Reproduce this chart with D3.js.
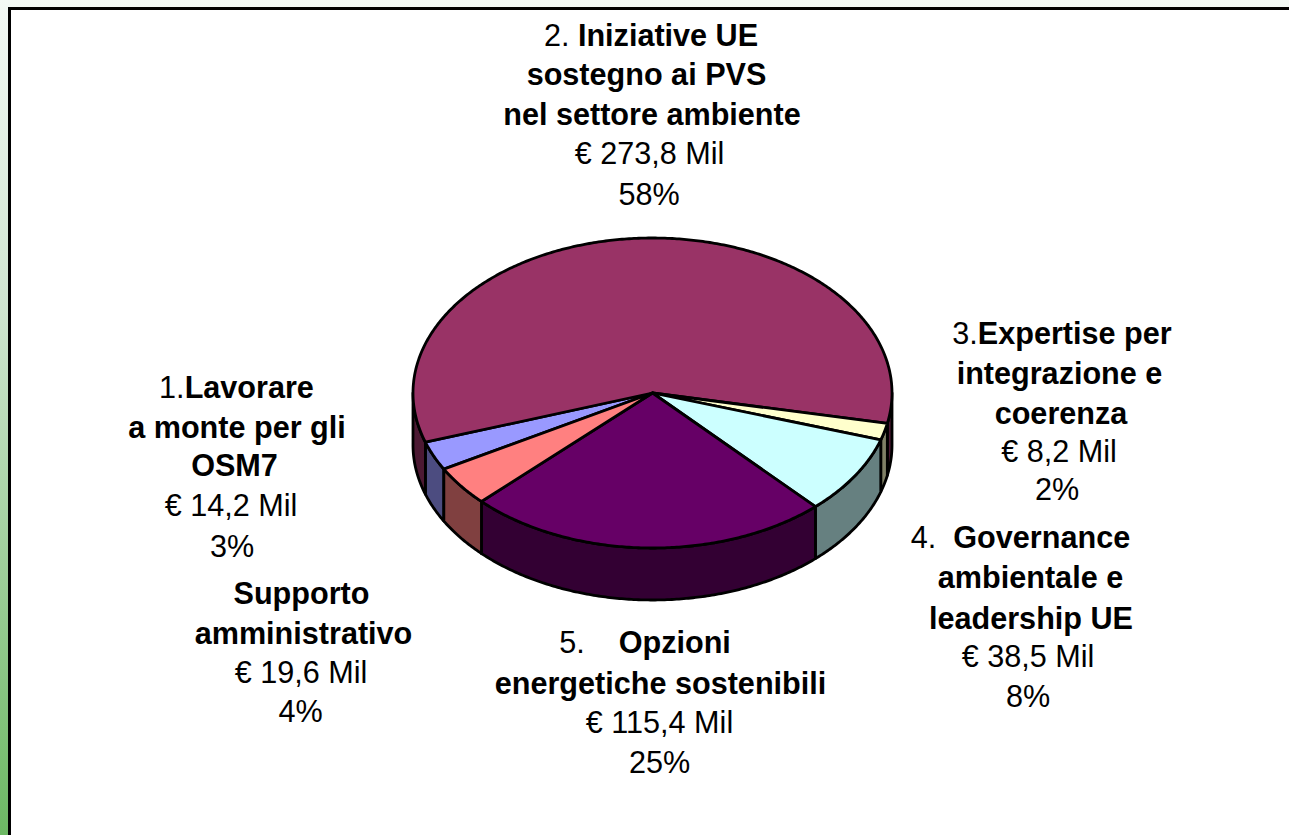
<!DOCTYPE html>
<html>
<head>
<meta charset="utf-8">
<script src="https://cdn.jsdelivr.net/npm/d3@7"></script>
<style>
  html, body { margin: 0; padding: 0; background: #fff; overflow: hidden; }
  text { font-family: "Liberation Sans", Arial, sans-serif; font-size: 30.6px; fill: #000; white-space: pre; text-anchor: middle; }
</style>
</head>
<body>
<script>
// values in millions of euro, clockwise from the "Lavorare a monte" slice
var names = ["Lavorare a monte", "Iniziative UE", "Expertise", "Governance", "Opzioni energetiche", "Supporto"];
var values = [14.2, 273.8, 8.2, 38.5, 115.4, 19.6];
var topColors = ["#9999ff", "#993366", "#ffffcc", "#ccffff", "#660066", "#ff8080"];
var sideColors = ["#4c4c80", "#4c1933", "#808066", "#668080", "#330033", "#804040"];

// label lines: [before bold, bold]
var labelLines = [
  ["2. ", "Iniziative UE"], ["", "sostegno ai PVS"], ["", "nel settore ambiente"], ["€ 273,8 Mil", ""], ["58%", ""],
  ["3.", "Expertise per"], ["", "integrazione e"], ["", "coerenza"], ["€ 8,2 Mil", ""], ["2%", ""],
  ["4.  ", "Governance"], ["", "ambientale e"], ["", "leadership UE"], ["€ 38,5 Mil", ""], ["8%", ""],
  ["5.    ", "Opzioni"], ["", "energetiche sostenibili"], ["€ 115,4 Mil", ""], ["25%", ""],
  ["", "Supporto"], ["", "amministrativo"], ["€ 19,6 Mil", ""], ["4%", ""],
  ["1.", "Lavorare"], ["", "a monte per gli"], ["", "OSM7"], ["€ 14,2 Mil", ""], ["3%", ""]
];
var labelX = [
  651, 646.5, 652, 649.5, 649,
  1062, 1059.5, 1061, 1059, 1057,
  1020.5, 1030.5, 1031, 1028, 1028,
  645, 660.5, 659.5, 659.5,
  301.5, 303.5, 301, 300.5,
  236.5, 237, 234.5, 231, 232
];
var labelY = [
  46, 85, 125, 164, 205,
  344, 384, 424, 462, 500,
  548, 588, 629, 667, 707,
  653, 694, 733, 773,
  604, 644, 683, 722,
  398, 438, 476, 516, 557
];

var width = 1289, height = 835;
var cx = 652.5, cy = 393, rx = 239.5, ry = 155, depth = 52;

var svg = d3.select("body").append("svg")
    .attr("width", width)
    .attr("height", height)
    .style("display", "block");

// page background behind the framed slide
var defs = svg.append("defs");
var grad = defs.append("linearGradient")
    .attr("id", "page")
    .attr("x1", 0).attr("y1", 0).attr("x2", 0).attr("y2", 1);
grad.append("stop").attr("offset", "0%").attr("stop-color", "#f3f9f5");
grad.append("stop").attr("offset", "37%").attr("stop-color", "#cfe5d0");
grad.append("stop").attr("offset", "100%").attr("stop-color", "#6cb863");

svg.append("rect").attr("width", width).attr("height", height).attr("fill", "url(#page)");
svg.append("rect").attr("x", 9.5).attr("y", 8.5).attr("width", width).attr("height", height)
    .attr("fill", "#fff").attr("stroke", "#000").attr("stroke-width", 3);

var x = d3.scaleLinear().domain([-1, 1]).range([cx - rx, cx + rx]);
var y = d3.scaleLinear().domain([-1, 1]).range([cy - ry, cy + ry]);

var slices = d3.pie().sort(null)
    .startAngle(240.6 * Math.PI / 180)
    .endAngle((240.6 + 360) * Math.PI / 180)(values);

// pie angles run from 12 o'clock, points are on the unit circle
function rim(a) { return [Math.sin(a), -Math.cos(a)]; }
function samples(a0, a1) {
  var n = Math.max(2, Math.ceil((a1 - a0) / 0.01));
  return d3.range(n + 1).map(function(i) { return rim(a0 + (a1 - a0) * i / n); });
}

var line = d3.line()
    .x(function(d) { return x(d[0]); })
    .y(function(d) { return y(d[1]) + (d[2] || 0); });

// the front of the pie is the part between 90 and 270 degrees (also +360)
var front = [[Math.PI / 2, 3 * Math.PI / 2], [5 * Math.PI / 2, 7 * Math.PI / 2]];
var walls = [];
slices.forEach(function(s, i) {
  front.forEach(function(f) {
    var a0 = Math.max(s.startAngle, f[0]), a1 = Math.min(s.endAngle, f[1]);
    if (a1 > a0) walls.push({a0: a0, a1: a1, i: i});
  });
});

var strokeW = 2.8;

svg.append("g").selectAll("path")
    .data(walls)
    .enter().append("path")
    .attr("d", function(d) {
      var upper = samples(d.a0, d.a1);
      var lower = upper.slice().reverse().map(function(p) { return [p[0], p[1], depth]; });
      return line(upper.concat(lower)) + "Z";
    })
    .attr("fill", function(d) { return sideColors[d.i]; })
    .attr("stroke", "#000")
    .attr("stroke-width", strokeW)
    .attr("stroke-linejoin", "round");

svg.append("g").selectAll("path")
    .data(slices)
    .enter().append("path")
    .attr("d", function(d) {
      return line([[0, 0]].concat(samples(d.startAngle, d.endAngle))) + "Z";
    })
    .attr("fill", function(d, i) { return topColors[i]; })
    .attr("stroke", "#000")
    .attr("stroke-width", strokeW)
    .attr("stroke-linejoin", "round")
    .append("title")
    .text(function(d, i) { return names[i]; });

var label = svg.append("g").selectAll("text")
    .data(labelLines)
    .enter().append("text")
    .attr("x", function(d, i) { return labelX[i]; })
    .attr("y", function(d, i) { return labelY[i]; });

label.append("tspan").text(function(d) { return d[0]; });
label.append("tspan").style("font-weight", "bold").text(function(d) { return d[1]; });
</script>
</body>
</html>
